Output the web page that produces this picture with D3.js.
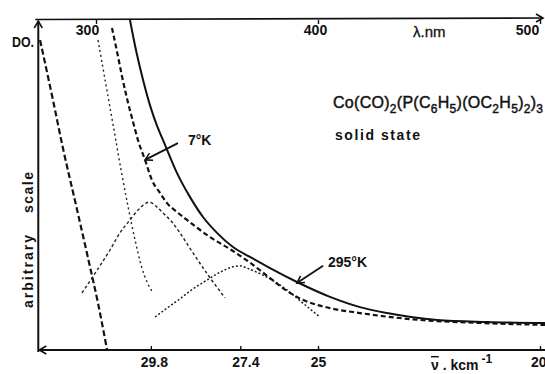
<!DOCTYPE html>
<html>
<head>
<meta charset="utf-8">
<script src="https://cdn.jsdelivr.net/npm/d3@7"></script>
<style>
  body { margin: 0; background: #fff; }
  svg { display: block; font-family: "Liberation Sans", Arial, Helvetica, sans-serif; }
</style>
</head>
<body>
<svg id="chart" width="545" height="374"></svg>
<script>
// wavelength (nm), optical density (arbitrary scale 0..100)
const solid295 = [[315.3,100],[318.0,90.9],[321.2,81.8],[324.3,74.2],[327.5,67.9],[330.2,63.6],[336.5,53.6],
  [342.3,46.4],[348.2,40.3],[354.5,35.5],[361.7,31.2],[369.4,28.2],[378.4,24.8],[390.5,20.6],[405.4,16.1],
  [418.9,13.0],[431.1,11.2],[453.6,9.1],[476.1,8.5],[502.3,8.2]];
const dashed7K = [[307.2,97.6],[309.5,90.3],[311.7,83.0],[314.0,76.1],[316.7,69.1],[318.9,63.6],[322.1,57.6],
  [325.2,51.5],[328.8,47.6],[332.0,44.5],[336.5,41.8],[341.0,39.4],[351.4,34.2],[361.7,30.0],[370.7,25.8],
  [378.4,21.8],[386.0,17.9],[393.2,15.2],[405.4,12.7],[418.9,11.2],[445.9,9.1],[473.0,8.2],[502.3,7.6]];
const bandA = [[274.8,93.9],[280.6,75.8],[285.1,61.2],[291.0,43.9],[296.4,27.9],[300.9,14.2],[305.0,0]];
const bandB = [[300.9,93.9],[304.5,80.3],[308.1,66.7],[311.3,54.5],[314.4,43.6],[317.6,33.3],[320.7,24.8],
  [323.4,20.0],[325.7,17.3]];
const bandC = [[293.7,17.3],[300.5,24.2],[306.3,30.3],[310.8,35.5],[315.3,39.4],[319.8,43.0],[323.9,44.8],
  [327.5,43.3],[330.2,41.5],[334.2,38.8],[337.8,35.5],[343.7,29.4],[350.5,22.7],[358.1,15.8]];
const bandD = [[326.6,10.0],[332.0,12.7],[337.8,15.5],[343.7,18.5],[350.0,21.2],[355.9,23.6],[361.7,25.2],
  [364.9,25.5],[368.0,24.8],[375.2,22.7],[386.0,18.2],[393.2,14.2],[400.9,10.0]];

const topTicks = [300, 400, 500];
const topLabelShift = [-9, -3, -13];
const bottomTicks = [324.7, 365, 400, 500];
const bottomTickLabels = ["29.8", "27.4", "25", "20"];
const bottomLabelShift = [3, 5, 0, -1];

const annotations = [
  { label: "7°K", at: [341.4, 62.1], from: [336.9, 62.7], to: [322.1, 57.6] },
  { label: "295°K", at: [404.5, 25.2], from: [402.3, 25.5], to: [390.5, 20.3] }
];

const lamMin = 274, lamMax = 502.5;

const svg = d3.select("#chart");
const x = d3.scaleLinear().domain([300, 500]).range([96, 540]);
const y = d3.scaleLinear().domain([0, 100]).range([350, 20]);

const ink = "#111";

svg.append("defs").append("marker")
  .attr("id", "chev")
  .attr("viewBox", "-8 -5 10 10")
  .attr("refX", 0).attr("refY", 0)
  .attr("markerWidth", 10).attr("markerHeight", 10)
  .attr("markerUnits", "userSpaceOnUse")
  .attr("orient", "auto")
  .append("path")
  .attr("d", "M-7,-4 L0,0 L-7,4")
  .attr("fill", "none")
  .attr("stroke", ink)
  .attr("stroke-width", 1.6);

// frame lines with arrows
svg.append("line")
  .attr("x1", x(lamMin)).attr("y1", y(0) + 2)
  .attr("x2", x(lamMin)).attr("y2", y(100) + 1)
  .attr("stroke", ink).attr("stroke-width", 2)
  .attr("marker-end", "url(#chev)");
svg.append("line")
  .attr("x1", 545).attr("y1", y(0))
  .attr("x2", x(lamMin) + 1).attr("y2", y(0))
  .attr("stroke", ink).attr("stroke-width", 2)
  .attr("marker-end", "url(#chev)");
svg.append("line")
  .attr("x1", x(lamMin) - 3).attr("y1", y(100) - 0.5)
  .attr("x2", 543).attr("y2", y(100) - 2)
  .attr("stroke", ink).attr("stroke-width", 1.6)
  .attr("marker-end", "url(#chev)");

// top wavelength axis, labels hang inside
const topAxis = d3.axisBottom(x).tickValues(topTicks).tickSize(4).tickPadding(1)
  .tickFormat(d3.format("d"));
svg.append("g")
  .attr("transform", `translate(0,${y(100)})`)
  .call(topAxis)
  .call(g => g.select(".domain").remove())
  .call(g => g.selectAll("line").attr("stroke", ink).attr("stroke-width", 1.4))
  .call(g => g.selectAll("text").attr("dx", (d, i) => topLabelShift[i]).attr("fill", ink)
    .attr("font-size", 14).attr("font-weight", "bold").attr("font-family", null));

// bottom wavenumber axis
const bottomAxis = d3.axisBottom(x).tickValues(bottomTicks).tickSize(-4).tickPadding(7)
  .tickFormat((d, i) => bottomTickLabels[i]);
svg.append("g")
  .attr("transform", `translate(0,${y(0)})`)
  .call(bottomAxis)
  .call(g => g.select(".domain").remove())
  .call(g => g.selectAll("line").attr("stroke", ink).attr("stroke-width", 1.4))
  .call(g => g.selectAll("text").attr("dx", (d, i) => bottomLabelShift[i]).attr("fill", ink)
    .attr("font-size", 14).attr("font-weight", "bold").attr("font-family", null));
// keep the last label inside the page
svg.selectAll("g.tick text").filter(function () { return this.textContent === "20"; })
  .attr("text-anchor", "end").attr("dx", 6);

// curves
const line = d3.line()
  .x(d => x(d[0]))
  .y(d => y(d[1]))
  .curve(d3.curveMonotoneX);

const series = [
  { data: bandA, width: 2.2, dash: "6,3", color: ink },
  { data: bandB, width: 1.4, dash: "2,3", color: "#222" },
  { data: bandC, width: 1.4, dash: "3,2.5", color: "#222" },
  { data: bandD, width: 1.5, dash: "2,2", color: "#222" },
  { data: dashed7K, width: 2.2, dash: "5,3", color: ink },
  { data: solid295, width: 2, dash: null, color: ink }
];

svg.selectAll(".curve")
  .data(series)
  .enter()
  .append("path")
  .attr("class", "curve")
  .attr("d", d => line(d.data))
  .attr("fill", "none")
  .attr("stroke", d => d.color)
  .attr("stroke-width", d => d.width)
  .attr("stroke-dasharray", d => d.dash);

// temperature labels and their arrows
svg.selectAll(".ann-arrow")
  .data(annotations)
  .enter()
  .append("line")
  .attr("class", "ann-arrow")
  .attr("x1", d => x(d.from[0])).attr("y1", d => y(d.from[1]))
  .attr("x2", d => x(d.to[0])).attr("y2", d => y(d.to[1]))
  .attr("stroke", ink).attr("stroke-width", 1.8)
  .attr("marker-end", "url(#chev)");

svg.selectAll(".ann-label")
  .data(annotations)
  .enter()
  .append("text")
  .attr("class", "ann-label")
  .attr("x", d => x(d.at[0]))
  .attr("y", d => y(d.at[1]))
  .attr("font-size", 14).attr("font-weight", "bold").attr("fill", ink)
  .text(d => d.label);

// axis titles
svg.append("text")
  .attr("x", 12).attr("y", 47)
  .attr("font-size", 15).attr("font-weight", "bold").attr("fill", ink)
  .attr("textLength", 22).attr("lengthAdjust", "spacingAndGlyphs")
  .text("DO.");

svg.append("text")
  .attr("transform", "translate(33,308) rotate(-90)")
  .attr("font-size", 14).attr("font-weight", "bold").attr("fill", ink)
  .attr("textLength", 73)
  .text("arbitrary");
svg.append("text")
  .attr("transform", "translate(33,213) rotate(-90)")
  .attr("font-size", 14).attr("font-weight", "bold").attr("fill", ink)
  .attr("textLength", 41)
  .text("scale");

svg.append("text")
  .attr("x", 413).attr("y", 37)
  .attr("font-size", 15).attr("fill", ink)
  .attr("stroke", ink).attr("stroke-width", 0.3)
  .text("λ.nm");

const nu = svg.append("text")
  .attr("x", 431).attr("y", 370)
  .attr("font-size", 14).attr("font-weight", "bold").attr("fill", ink);
nu.append("tspan").attr("text-decoration", "overline").text("ν");
nu.append("tspan").text(" . kcm");
nu.append("tspan").attr("dx", 3).attr("dy", -7).attr("font-size", 12).text("-1");

// compound and state
const formula = svg.append("text")
  .attr("x", 333).attr("y", 108)
  .attr("font-size", 16).attr("fill", ink)
  .attr("stroke", ink).attr("stroke-width", 0.45)
  .attr("textLength", 210);
const parts = [["Co(CO)", false], ["2", true], ["(P(C", false], ["6", true], ["H", false], ["5", true],
  [")(OC", false], ["2", true], ["H", false], ["5", true], [")", false], ["2", true], [")", false], ["3", true]];
let sub = false;
parts.forEach(([t, isSub]) => {
  const ts = formula.append("tspan").text(t);
  if (isSub && !sub) ts.attr("dy", 5).attr("font-size", 12);
  else if (isSub) ts.attr("font-size", 12);
  if (!isSub && sub) ts.attr("dy", -5);
  sub = isSub;
});

svg.append("text")
  .attr("x", 335).attr("y", 140)
  .attr("font-size", 14).attr("font-weight", "bold").attr("fill", ink)
  .attr("textLength", 85)
  .text("solid  state");
</script>
</body>
</html>
